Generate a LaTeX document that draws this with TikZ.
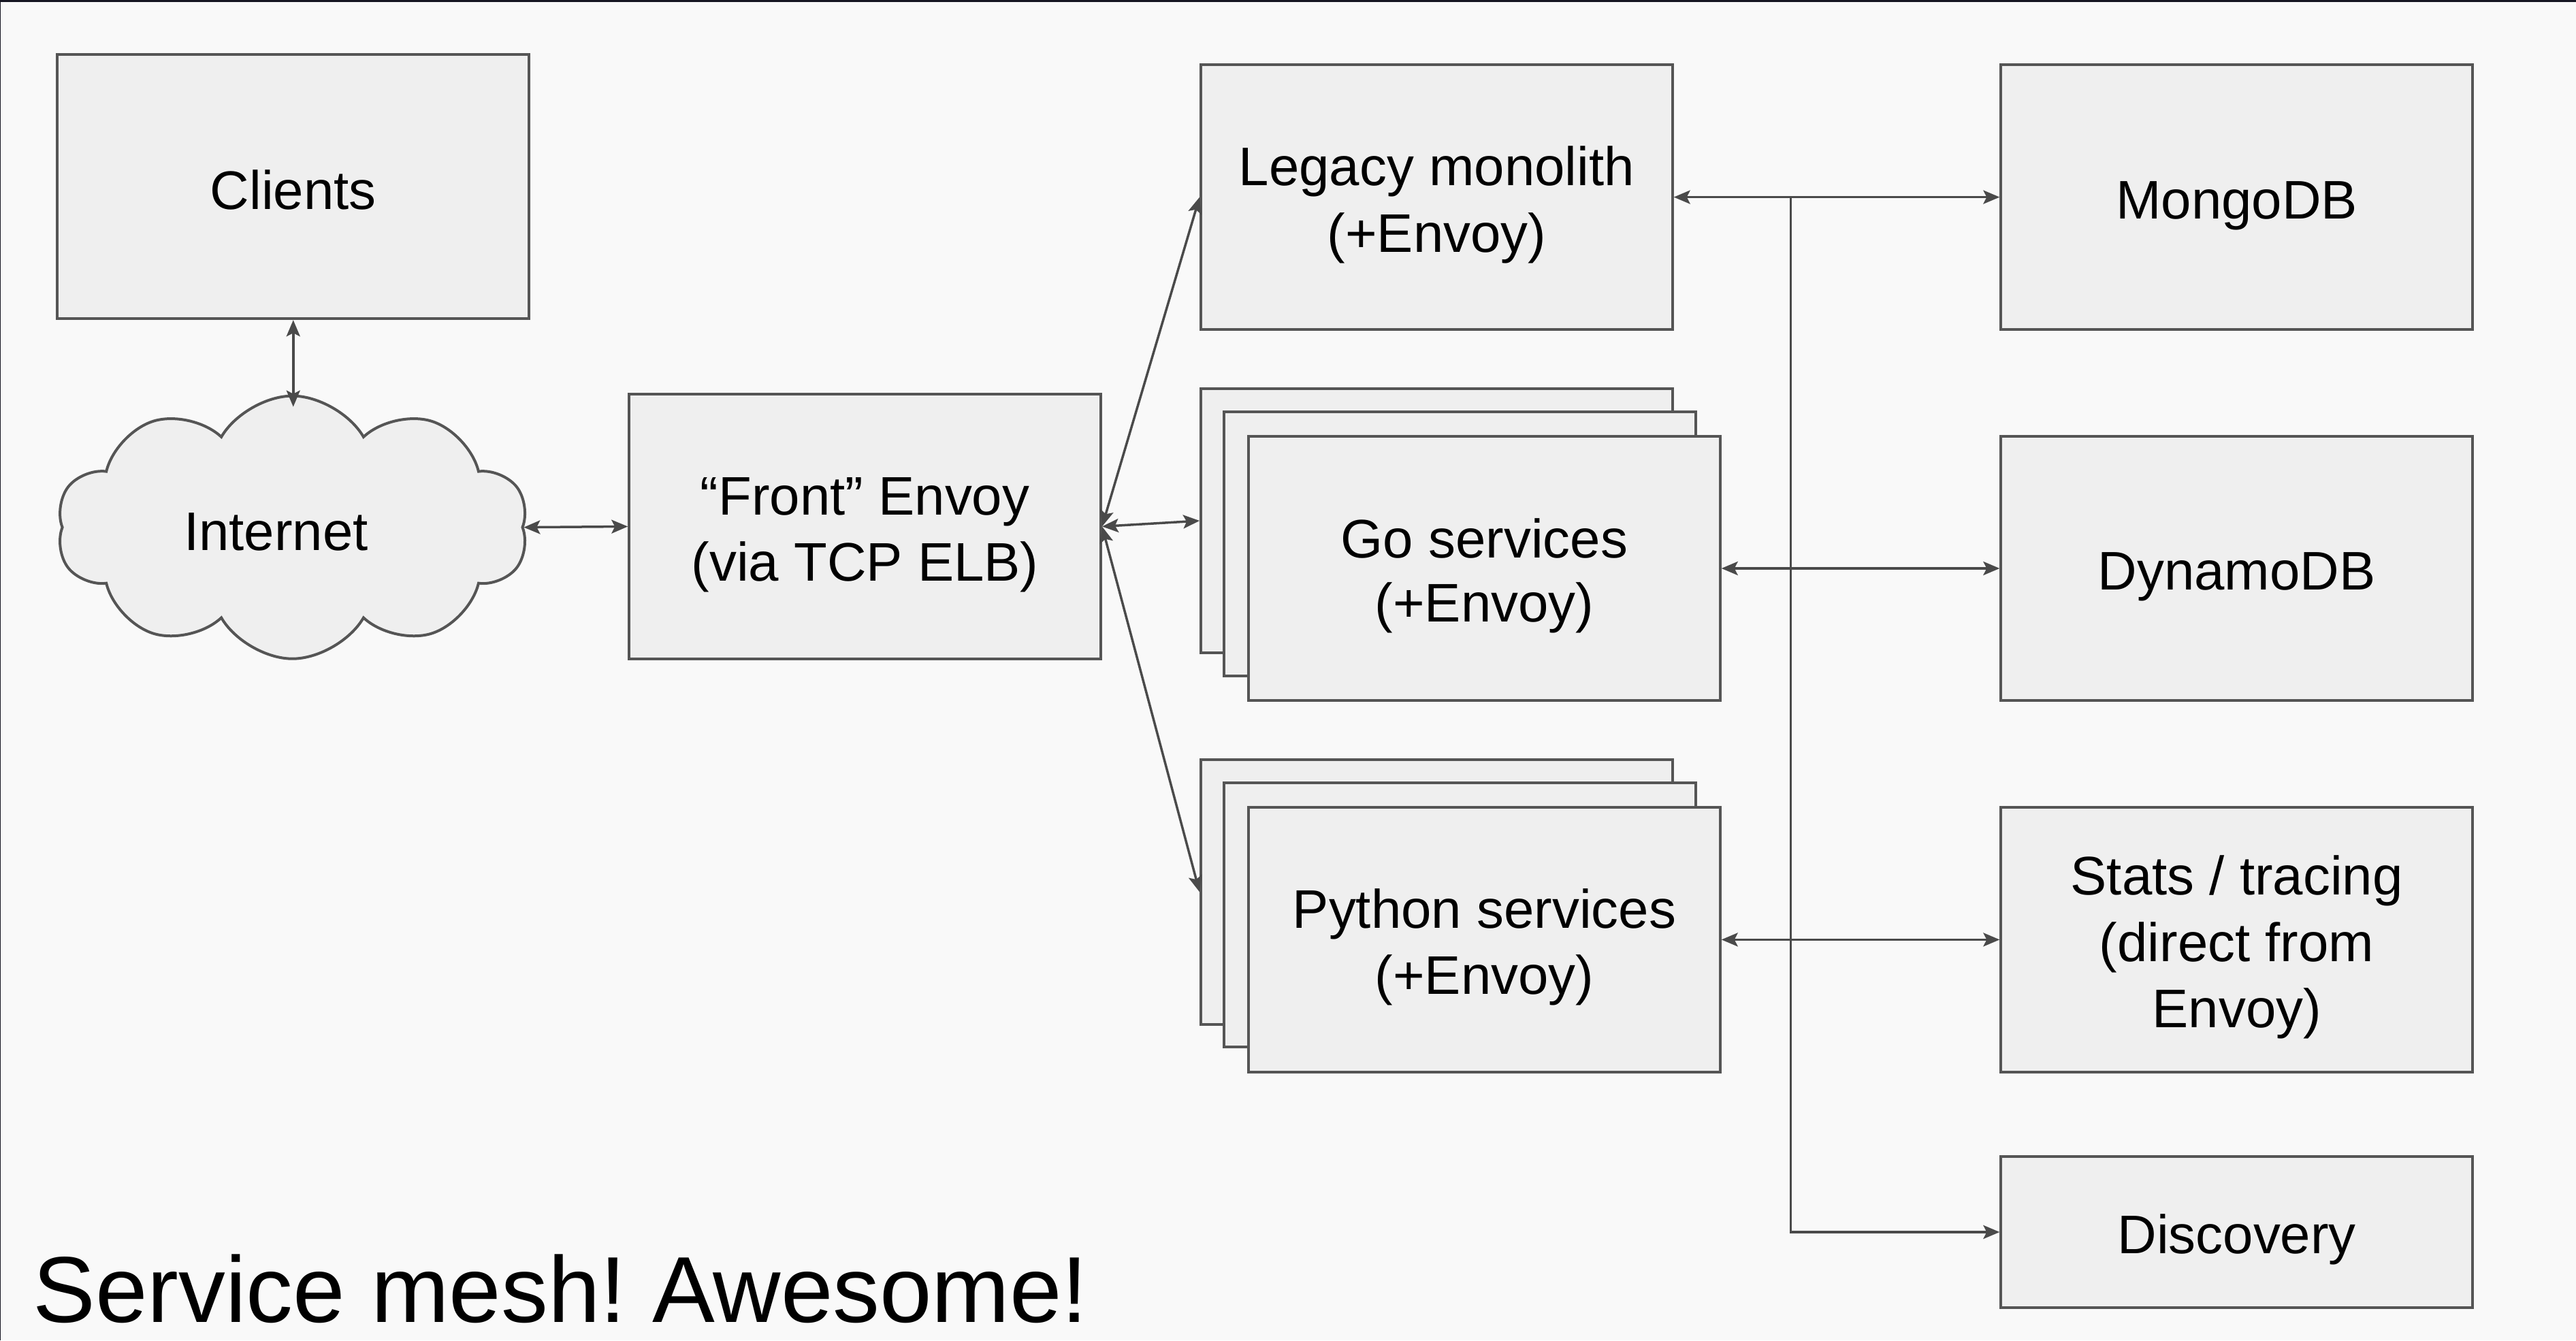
\documentclass[tikz,border=0pt]{standalone}
\usepackage{fontspec}
\setmainfont{Liberation Sans}
\usetikzlibrary{shapes.symbols,arrows.meta}
\frenchspacing
\definecolor{bgcol}{HTML}{F9F9F9}
\definecolor{boxfill}{HTML}{EFEFEF}
\definecolor{edgecol}{HTML}{555555}
\definecolor{linecol}{HTML}{4A4A4A}
\definecolor{framecol}{HTML}{161622}
\newcommand\uu{2.4133pt}
\newcommand\stt{\rule[-13pt]{0pt}{93pt}}
\begin{document}
\begin{tikzpicture}[x=2.4133pt,y=-2.4133pt,
  >={Stealth[length=24pt,width=20pt,inset=5pt]},
  lbl/.style={font=\fontsize{79.8pt}{94pt}\selectfont},
  box/.style={draw=edgecol, fill=boxfill, line width=4pt, minimum width=287*\uu, minimum height=161*\uu, inner sep=0pt, align=center, lbl},
  conn/.style={draw=linecol, line width=3.5pt, <->},
  conn1/.style={draw=linecol, line width=3.5pt, ->}
]
\useasboundingbox (0,0) rectangle (1568,816);
\fill[bgcol] (0,0) rectangle (1568,816);
\fill[framecol] (0,0) rectangle (1568,1.3);
\fill[framecol] (0,0) rectangle (0.6,816);

\node[box] (clients) at (178.5,113.5) {\stt Clients};
\node[cloud, cloud puffs=10, cloud puff arc=120, aspect=1.76, draw=edgecol, fill=boxfill, line width=4pt, minimum width=287*\uu, minimum height=160*\uu, inner sep=0pt, lbl] (cloud) at (178,321) {\stt Internet\kern 48pt};
\node[box] (front) at (526.5,320.5) {\stt “Front” Envoy\\\stt (via TCP ELB)};
\node[box] (legacy) at (874.5,120) {\stt Legacy monolith\\\stt (+Envoy)};

\node[box] (goback) at (874.5,317) {};
\node[box] (gomid) at (888.5,331) {};
\node[box] (go) at (903.5,346) {\stt Go services\\\stt (+Envoy)};

\node[box] (pyback) at (874.5,543) {};
\node[box] (pymid) at (888.5,557) {};
\node[box] (py) at (903.5,572) {\stt Python services\\\stt (+Envoy)};

\node[box] (mongo) at (1361.5,120) {\stt MongoDB};
\node[box] (dynamo) at (1361.5,346) {\stt DynamoDB};
\node[box] (stats) at (1361.5,572) {\stt Stats / tracing\\\stt (direct from\\\stt Envoy)};
\node[box, minimum height=92*\uu] (discovery) at (1361.5,750) {\stt Discovery};

\node[anchor=base west, inner sep=0pt, font=\fontsize{137.6pt}{160pt}\selectfont] (title) at (20,805) {Service mesh! Awesome!};

\draw[conn] (clients.south) -- ([yshift=-18pt]clients.south |- cloud.north);
\draw[conn] (cloud.east) -- (front.west);
\draw[conn] (front.east) -- (legacy.west);
\draw[conn] (front.east) -- (goback.west);
\draw[conn] (front.east) -- (pyback.west);
\draw[conn] (legacy.east) -- (mongo.west);
\draw[conn] (go.east) -- (dynamo.west);
\draw[conn] (py.east) -- (stats.west);
\coordinate (bustop) at (1090,120);
\draw[conn1] (bustop) |- (discovery.west);
\end{tikzpicture}
\end{document}
